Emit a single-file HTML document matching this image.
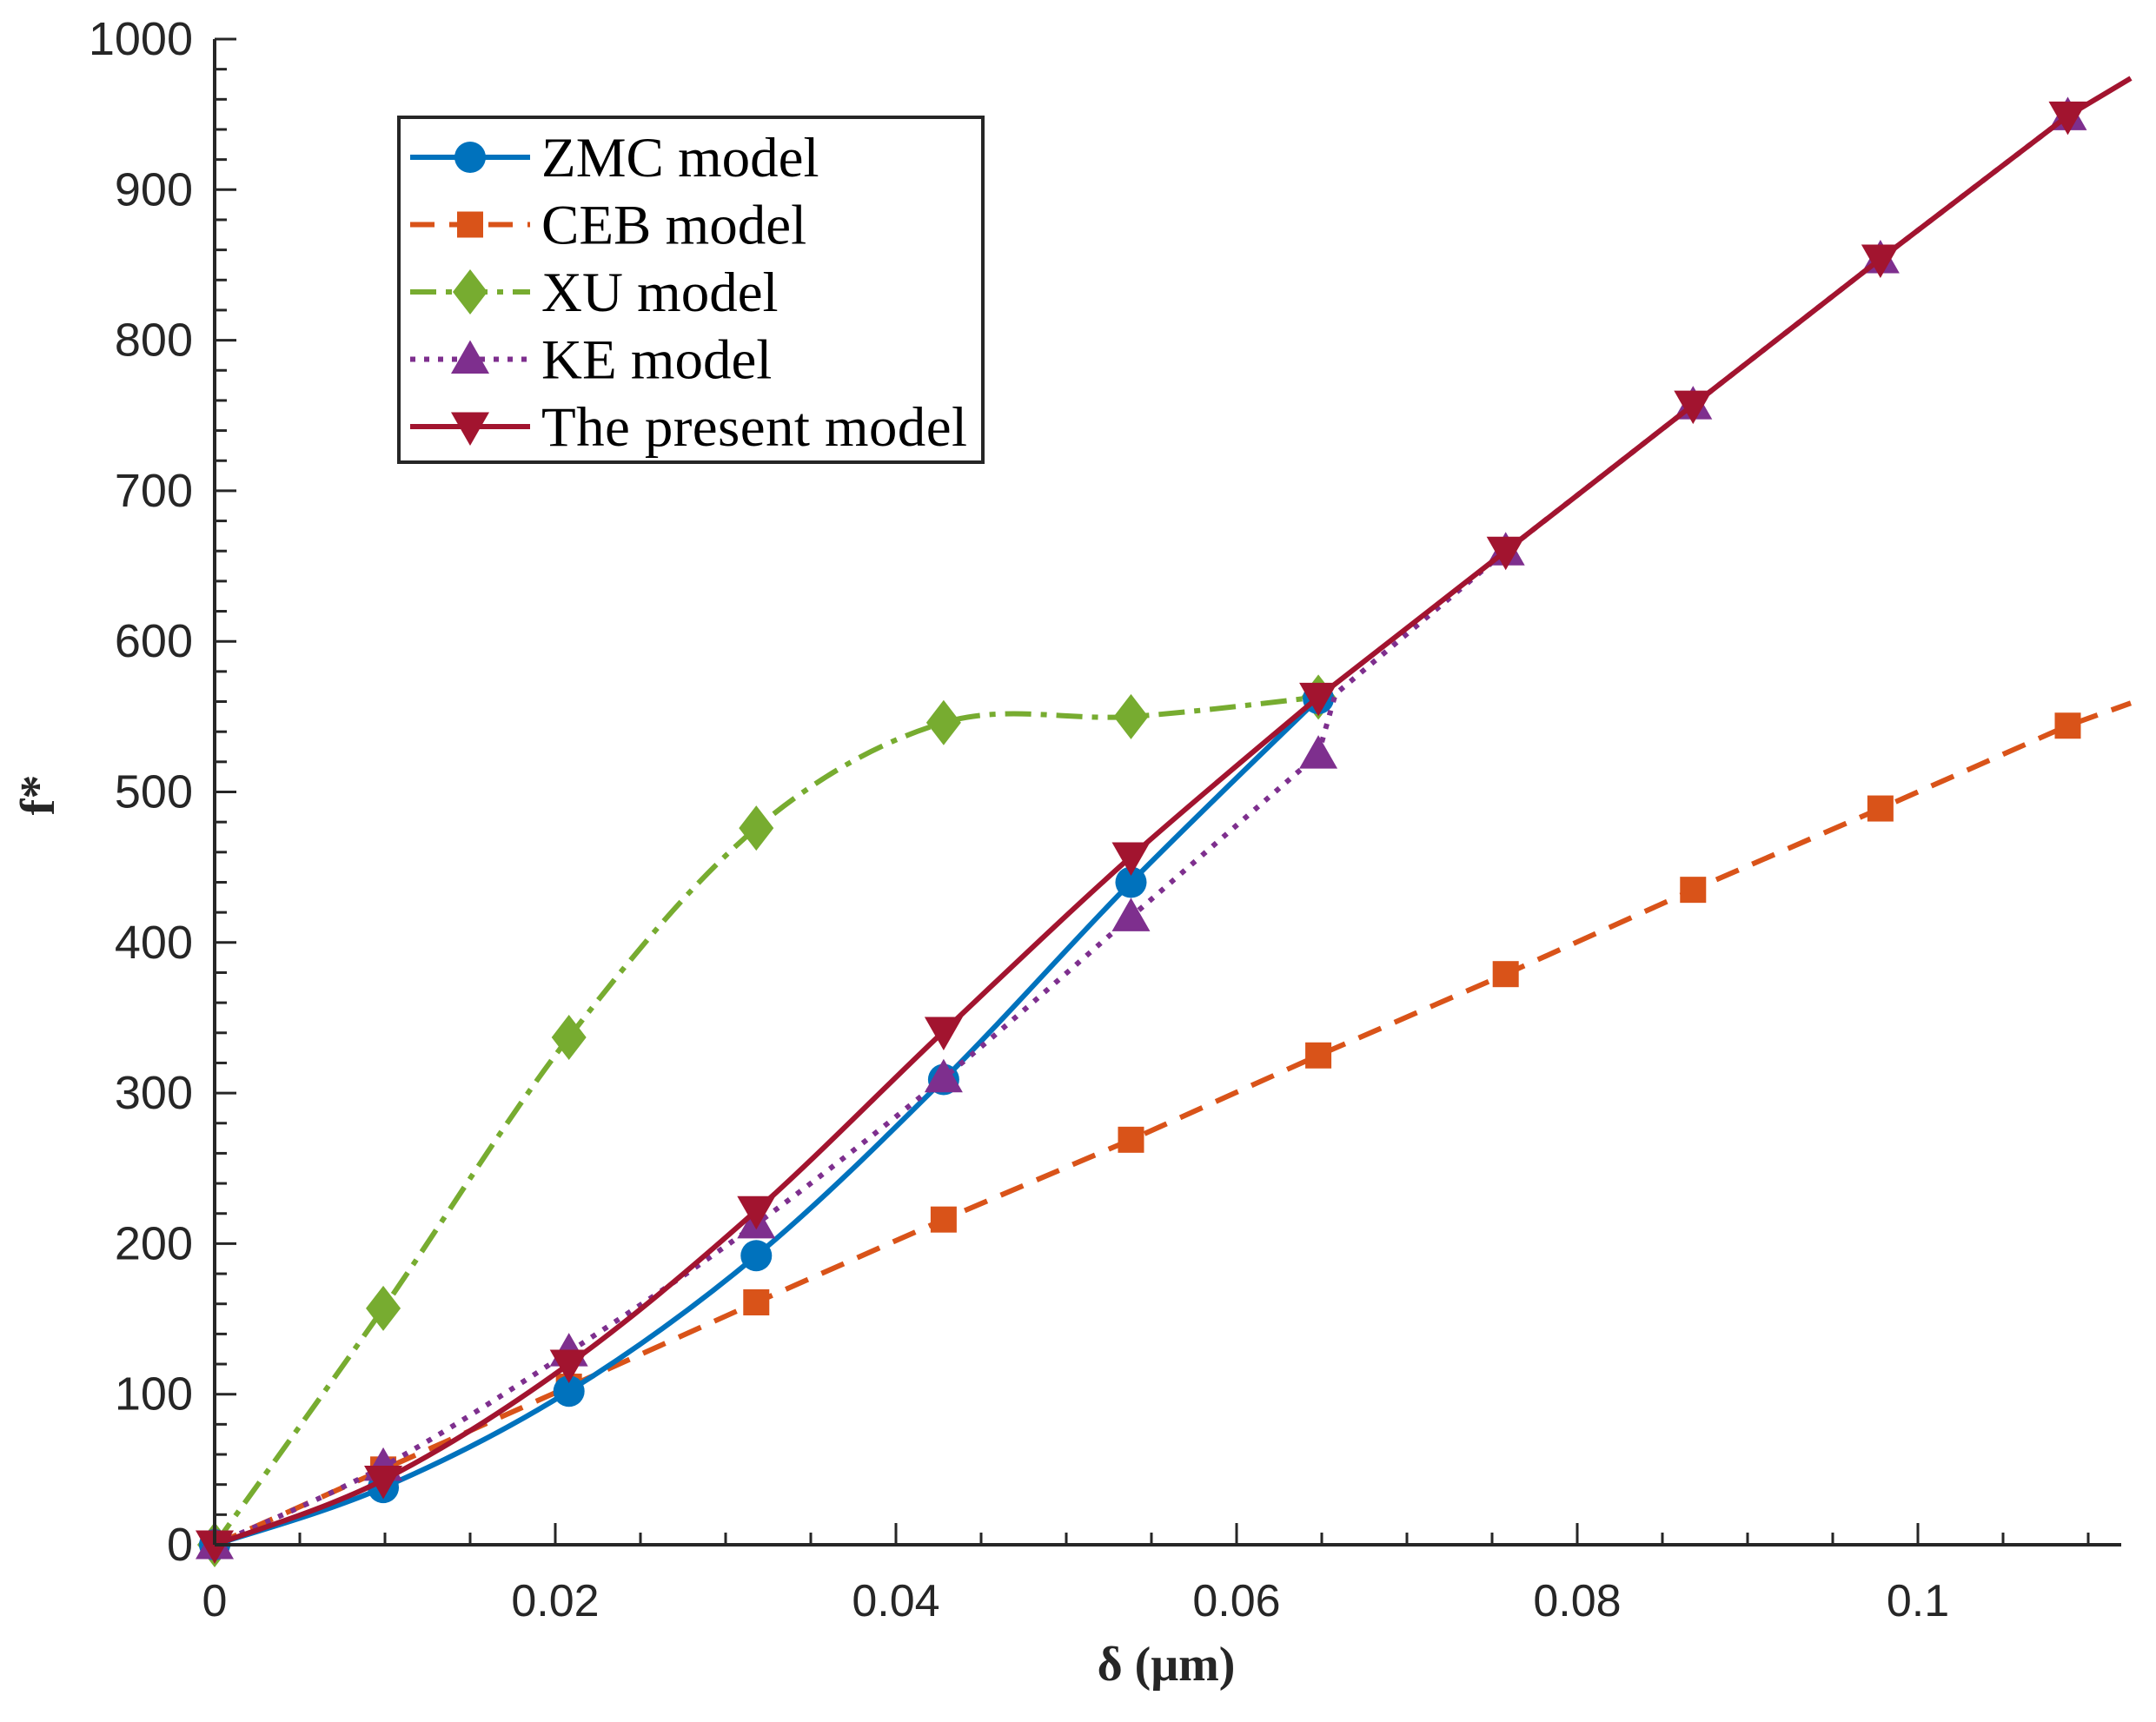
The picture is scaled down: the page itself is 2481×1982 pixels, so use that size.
<!DOCTYPE html>
<html><head><meta charset="utf-8"><style>
html,body{margin:0;padding:0;background:#fff;width:2481px;height:1982px;overflow:hidden}
svg{display:block}
</style></head><body>
<svg id="chart" width="2481" height="1982" xmlns="http://www.w3.org/2000/svg">
<g id="grid"></g><g id="series"></g><g id="axes"></g><g id="legend"></g>
</svg>
<script>
const xs = [0,0.0099,0.0208,0.0318,0.0428,0.0538,0.0648,0.0758,0.0868,0.0978,0.1088];
const zmcY = [0,38,102,192,309,440,562];
const cebY = [0,50,105,161,216,269,325,379,435,489,544];
const xuY = [0,157,337,476,546,550,563];
const keX = [0,0.0099,0.0208,0.0318,0.0428,0.0538,0.0648,0.0658,0.0758,0.0868,0.0978,0.1088];
const keY = [0,52,128,213,310,417,525,565,660,757,854,949];
const presentY = [0,43,120,222,341,457,563,660,757,854,949];
const cebEnd = [0.1125,559];
const presentEnd = [0.1125,974];
const xTicks = [0,0.02,0.04,0.06,0.08,0.1];
const xTickLabels = ["0","0.02","0.04","0.06","0.08","0.1"];
const yTicks = [0,100,200,300,400,500,600,700,800,900,1000];

const NS="http://www.w3.org/2000/svg";
const X0=247, XPX=19600, Y0=1778, YPX=1.733, XEND=2441;
const sx=v=>X0+v*XPX, sy=v=>Y0-v*YPX;
function mk(tag,attrs,parent){const e=document.createElementNS(NS,tag);for(const k in attrs)e.setAttribute(k,attrs[k]);parent.appendChild(e);return e;}
const series=document.getElementById('series'), axes=document.getElementById('axes'), legend=document.getElementById('legend');

function smoothPath(pts){
  let d=`M${pts[0][0]},${pts[0][1]}`;
  for(let i=0;i<pts.length-1;i++){
    const p0=pts[Math.max(0,i-1)],p1=pts[i],p2=pts[i+1],p3=pts[Math.min(pts.length-1,i+2)];
    const c1=[p1[0]+(p2[0]-p0[0])/6,p1[1]+(p2[1]-p0[1])/6];
    const c2=[p2[0]-(p3[0]-p1[0])/6,p2[1]-(p3[1]-p1[1])/6];
    d+=` C${c1[0]},${c1[1]} ${c2[0]},${c2[1]} ${p2[0]},${p2[1]}`;
  }
  return d;
}
function linePath(pts){return pts.map((p,i)=>(i?'L':'M')+p[0]+','+p[1]).join(' ');}
function marker(type,x,y,color,parent){
  const r=22;let e;
  if(type==='circle') e=mk('circle',{cx:x,cy:y,r:18,fill:color},parent);
  else if(type==='square') e=mk('rect',{x:x-15,y:y-15,width:30,height:30,fill:color},parent);
  else if(type==='diamond') e=mk('polygon',{points:`${x},${y-r-4} ${x+r-2},${y} ${x},${y+r+4} ${x-r+2},${y}`,fill:color},parent);
  else if(type==='up') e=mk('polygon',{points:`${x},${y-r} ${x+r},${y+r*0.75} ${x-r},${y+r*0.75}`,fill:color},parent);
  else e=mk('polygon',{points:`${x},${y+r} ${x+r},${y-r*0.75} ${x-r},${y-r*0.75}`,fill:color},parent);
  return e;
}
// nSmooth: number of leading points joined by smooth curve; remaining joined linearly
function drawSeries(name,xv,yv,color,dash,mtype,nSmooth,extra,mShow){
  const g=mk('g',{},series);
  
  
  const pts=yv.map((v,i)=>[sx(xv[i]),sy(v)]);
  const lp=extra?pts.concat([[sx(extra[0]),sy(extra[1])]]):pts;
  let d;
  if(nSmooth>1){
    const n=Math.min(nSmooth,lp.length);
    d=smoothPath(lp.slice(0,n));
    for(let i=n;i<lp.length;i++) d+=` L${lp[i][0]},${lp[i][1]}`;
  } else d=linePath(lp);
  const p=mk('path',{d:d,fill:'none',stroke:color,'stroke-width':6,'stroke-dasharray':dash,'stroke-linejoin':'round'},g);
  
  
  pts.forEach((pt,i)=>{
    if(mShow && !mShow(i)) return;
    const m=marker(mtype,pt[0],pt[1],color,g);
    
    
  });
}
drawSeries('ceb',xs,cebY,'#D95319','28 17','square',0,cebEnd);
drawSeries('xu',xs,xuY,'#77AC30','30 11 7 11','diamond',99,null);
drawSeries('zmc',xs,zmcY,'#0072BD','','circle',99,null);
drawSeries('ke',keX,keY,'#7E2F8E','6 10','up',7,null,i=>i!==7);
drawSeries('present',xs,presentY,'#A2142F','','down',7,presentEnd);

// axes
let a=mk('line',{x1:X0,y1:Y0,x2:XEND,y2:Y0,stroke:'#262626','stroke-width':4},axes);

a=mk('line',{x1:X0,y1:Y0,x2:X0,y2:sy(1000),stroke:'#262626','stroke-width':4},axes);

for(let v=0;v<=0.1125;v+=0.005){
  const major=Math.abs(v/0.02-Math.round(v/0.02))<1e-6;
  mk('line',{x1:sx(v),y1:Y0,x2:sx(v),y2:Y0-(major?25:14),stroke:'#262626','stroke-width':3},axes);
}
for(let v=0;v<=1000;v+=20){
  const major=v%100===0;
  mk('line',{x1:X0,y1:sy(v),x2:X0+(major?25:14),y2:sy(v),stroke:'#262626','stroke-width':3},axes);
}
xTicks.forEach((v,i)=>{
  const t=mk('text',{x:sx(v),y:1860,'text-anchor':'middle','font-family':'Liberation Sans, sans-serif','font-size':52,fill:'#262626'},axes);
  t.textContent=xTickLabels[i];
  
});
yTicks.forEach(v=>{
  const t=mk('text',{x:222,y:sy(v)+18,'text-anchor':'end','font-family':'Liberation Sans, sans-serif','font-size':54,fill:'#262626'},axes);
  t.textContent=String(v);
  
});
let t=mk('text',{x:1342,y:1934,'text-anchor':'middle','font-family':'Liberation Serif, serif','font-size':56,'font-weight':'bold',fill:'#262626'},axes);
t.textContent='δ (μm)';
t=mk('text',{x:0,y:0,transform:'translate(62,915) rotate(-90)','text-anchor':'middle','font-family':'Liberation Serif, serif','font-size':56,'font-weight':'bold',fill:'#262626'},axes);
t.textContent='f*';

// legend
const lgNames=['ZMC model','CEB model','XU model','KE model','The present model'];
const lgColors=['#0072BD','#D95319','#77AC30','#7E2F8E','#A2142F'];
const lgDash=['','28 17','30 11 7 11','6 10',''];
const lgMark=['circle','square','diamond','up','down'];
const box=mk('rect',{x:459,y:135,width:672,height:397,fill:'#fff',stroke:'#262626','stroke-width':4},legend);

lgNames.forEach((n,i)=>{
  const y=181+i*77.5;
  const g=mk('g',{},legend);
  
  
  mk('line',{x1:472,y1:y,x2:610,y2:y,stroke:lgColors[i],'stroke-width':6,'stroke-dasharray':lgDash[i]},g);
  marker(lgMark[i],541,y,lgColors[i],g);
  const tt=mk('text',{x:623,y:y+22,'font-family':'Liberation Serif, serif','font-size':65,fill:'#000',textLength:i===4?490:null},g);
  if(i!==4) tt.removeAttribute('textLength');
  tt.textContent=n;
});
</script>
</body></html>
